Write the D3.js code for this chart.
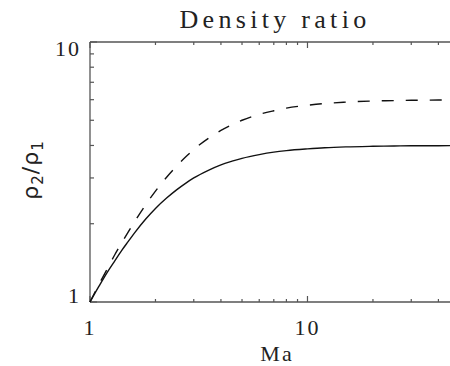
<!DOCTYPE html>
<html>
<head>
<meta charset="utf-8">
<script src="https://cdn.jsdelivr.net/npm/d3@7"></script>
<style>
  html, body { margin: 0; padding: 0; background: #fff; }
  svg { display: block; }
</style>
</head>
<body>
<script>
// Mach numbers and density jump across the shock for two gases
const mach = [1, 1.1, 1.2, 1.3, 1.4, 1.5, 1.6, 1.8, 2, 2.25, 2.5, 2.75, 3, 3.5, 4, 4.5, 5, 6, 7, 8, 10, 12, 15, 20, 25, 30, 40, 50];
const ratioSolid = [1, 1.15, 1.30, 1.44, 1.58, 1.71, 1.84, 2.08, 2.29, 2.51, 2.70, 2.86, 3.00, 3.21, 3.37, 3.48, 3.57, 3.69, 3.77, 3.82, 3.88, 3.92, 3.95, 3.97, 3.98, 3.99, 3.99, 4.00];
const ratioDashed = [1, 1.17, 1.34, 1.52, 1.69, 1.86, 2.03, 2.36, 2.67, 3.02, 3.33, 3.61, 3.86, 4.26, 4.57, 4.81, 5.00, 5.27, 5.44, 5.57, 5.71, 5.80, 5.87, 5.93, 5.95, 5.97, 5.98, 5.99];
const xMajorTicks = [1, 10];
const xMinorTicks = [2, 3, 4, 5, 6, 7, 8, 9, 20, 30, 40];
const yMajorTicks = [1, 10];
const yMinorTicks = [2, 3, 4, 5, 6, 7, 8, 9];
const titleText = "Density ratio";
const xLabel = "Ma";

const W = 450, H = 366;
const plotLeft = 90, plotTop = 42, plotBottom = 302;
const plotRight = 459.5;
const axisColor = "#555";
const textColor = "#222";

const svg = d3.select("body").append("svg").attr("width", W).attr("height", H);

const x = d3.scaleLog().domain([1, 50]).range([plotLeft, plotRight]);
const y = d3.scaleLog().domain([1, 10]).range([plotBottom, plotTop]);

const g = svg.append("g");

// frame
g.append("line").attr("x1", plotLeft).attr("x2", plotRight).attr("y1", plotBottom).attr("y2", plotBottom)
  .attr("stroke", axisColor).attr("stroke-width", 1.3);
g.append("line").attr("x1", plotLeft).attr("x2", plotRight).attr("y1", plotTop).attr("y2", plotTop)
  .attr("stroke", axisColor).attr("stroke-width", 1.3);
g.append("line").attr("x1", plotLeft).attr("x2", plotLeft).attr("y1", plotTop).attr("y2", plotBottom)
  .attr("stroke", axisColor).attr("stroke-width", 1.3);

// x ticks on bottom (pointing up) and top (pointing down)
function xTicks(vals, len) {
  vals.forEach(v => {
    const px = x(v);
    g.append("line").attr("x1", px).attr("x2", px).attr("y1", plotBottom).attr("y2", plotBottom - len)
      .attr("stroke", axisColor).attr("stroke-width", 1.2);
    g.append("line").attr("x1", px).attr("x2", px).attr("y1", plotTop).attr("y2", plotTop + len)
      .attr("stroke", axisColor).attr("stroke-width", 1.2);
  });
}
xTicks(xMinorTicks, 3);
xTicks(xMajorTicks, 6);

// y ticks on the left (pointing right)
function yTicks(vals, len) {
  vals.forEach(v => {
    const py = y(v);
    g.append("line").attr("x1", plotLeft).attr("x2", plotLeft + len).attr("y1", py).attr("y2", py)
      .attr("stroke", axisColor).attr("stroke-width", 1.2);
  });
}
yTicks(yMinorTicks, 4);
yTicks(yMajorTicks, 7);

const serif = "'Liberation Serif', 'DejaVu Serif', serif";

// tick labels
g.selectAll("text.xt").data(xMajorTicks).enter().append("text")
  .attr("x", d => x(d)).attr("y", 335)
  .attr("text-anchor", "middle")
  .attr("font-family", serif).attr("font-size", 22).attr("letter-spacing", 2)
  .attr("fill", textColor)
  .text(d => d3.format("d")(d));

const yLabelOffsets = { 1: 1, 10: 14 };
g.selectAll("text.yt").data(yMajorTicks).enter().append("text")
  .attr("x", plotLeft - 9).attr("y", d => y(d) + yLabelOffsets[d])
  .attr("text-anchor", "end")
  .attr("font-family", serif).attr("font-size", 22).attr("letter-spacing", 2)
  .attr("fill", textColor)
  .text(d => d3.format("d")(d));

// title
svg.append("text").attr("x", 275).attr("y", 28).attr("text-anchor", "middle")
  .attr("font-family", serif).attr("font-size", 26).attr("letter-spacing", 4.3)
  .attr("fill", textColor)
  .text(titleText);

// x axis label
svg.append("text").attr("x", 277).attr("y", 361).attr("text-anchor", "middle")
  .attr("font-family", serif).attr("font-size", 22).attr("letter-spacing", 2)
  .attr("fill", textColor)
  .text(xLabel);

// y axis label
const yl = svg.append("text")
  .attr("transform", "translate(38,170) rotate(-90)")
  .attr("text-anchor", "middle")
  .attr("font-family", "'DejaVu Sans', sans-serif").attr("font-size", 22)
  .attr("letter-spacing", 1)
  .attr("fill", textColor);
yl.append("tspan").text("\u03c1");
yl.append("tspan").attr("font-size", 15).attr("dy", 5).text("2");
yl.append("tspan").attr("dy", -5).text("/\u03c1");
yl.append("tspan").attr("font-size", 15).attr("dy", 5).text("1");

// curves
const line = d3.line().x(d => x(d[0])).y(d => y(d[1])).curve(d3.curveMonotoneX);
const solidPts = mach.map((m, i) => [m, ratioSolid[i]]);
const dashedPts = mach.map((m, i) => [m, ratioDashed[i]]);

svg.append("path").attr("d", line(dashedPts)).attr("fill", "none")
  .attr("stroke", "#111").attr("stroke-width", 1.4).attr("stroke-dasharray", "12,12");
svg.append("path").attr("d", line(solidPts)).attr("fill", "none")
  .attr("stroke", "#111").attr("stroke-width", 1.4);
</script>
</body>
</html>
